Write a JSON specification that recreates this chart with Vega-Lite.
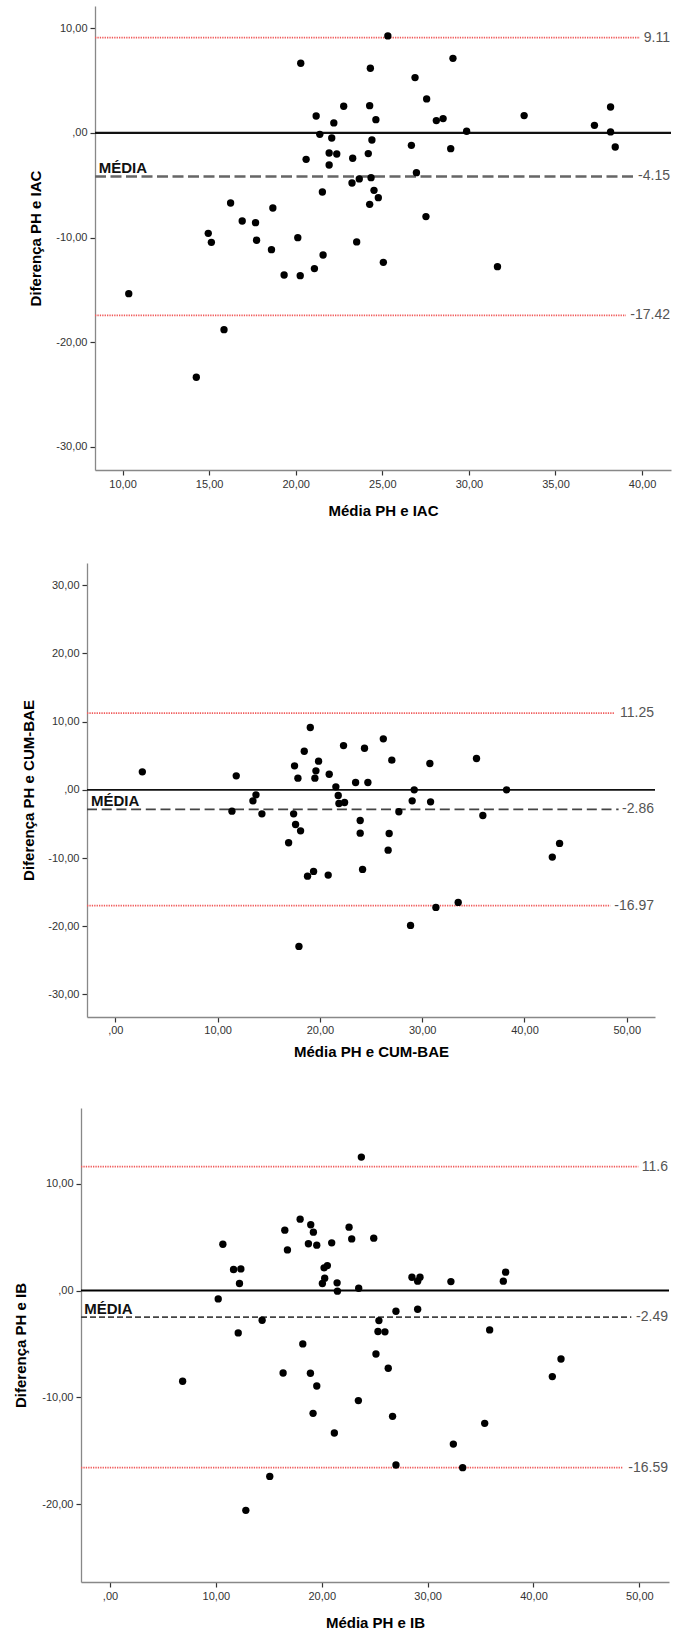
{
  "$schema": "https://vega.github.io/schema/vega-lite/v6.json",
  "padding": {"top": 6, "left": 0, "right": 0, "bottom": 0},
  "spacing": 0,
  "config": {
    "view": {"stroke": null},
    "axis": {
      "grid": false,
      "labelFont": "Liberation Sans",
      "labelFontSize": 11,
      "labelColor": "#333333",
      "titleFont": "Liberation Sans",
      "titleFontSize": 15,
      "titleFontWeight": "bold",
      "titleColor": "#000000",
      "domainColor": "#888888",
      "domainWidth": 1.3,
      "tickColor": "#333333",
      "tickSize": 5,
      "tickWidth": 1.2,
      "labelPadding": 3
    }
  },
  "datasets": {
    "p1": [
      {"m": 10.36, "d": -15.35}, {"m": 14.26, "d": -23.34}, {"m": 15.86, "d": -18.79}, {"m": 14.95, "d": -9.59},
      {"m": 15.13, "d": -10.45}, {"m": 16.24, "d": -6.69}, {"m": 16.91, "d": -8.41}, {"m": 17.68, "d": -8.57},
      {"m": 17.74, "d": -10.25}, {"m": 18.68, "d": -7.17}, {"m": 18.6, "d": -11.15}, {"m": 19.33, "d": -13.57},
      {"m": 20.26, "d": -13.63}, {"m": 20.12, "d": -10.0}, {"m": 20.29, "d": 6.66}, {"m": 20.6, "d": -2.52},
      {"m": 21.08, "d": -12.96}, {"m": 21.58, "d": -11.66}, {"m": 21.54, "d": -5.64}, {"m": 21.18, "d": 1.62},
      {"m": 21.39, "d": -0.13}, {"m": 22.2, "d": 0.96}, {"m": 22.08, "d": -0.48}, {"m": 21.93, "d": -1.91},
      {"m": 22.37, "d": -2.01}, {"m": 21.93, "d": -3.06}, {"m": 22.77, "d": 2.55}, {"m": 23.29, "d": -2.42},
      {"m": 23.25, "d": -4.78}, {"m": 23.67, "d": -4.39}, {"m": 23.52, "d": -10.41}, {"m": 24.31, "d": 6.18},
      {"m": 24.27, "d": 2.61}, {"m": 24.63, "d": 1.27}, {"m": 24.4, "d": -0.67}, {"m": 24.19, "d": -1.97},
      {"m": 24.35, "d": -4.27}, {"m": 24.52, "d": -5.48}, {"m": 24.77, "d": -6.18}, {"m": 24.27, "d": -6.82},
      {"m": 25.06, "d": -12.36}, {"m": 25.32, "d": 9.27}, {"m": 26.89, "d": 5.29}, {"m": 27.56, "d": 3.25},
      {"m": 29.08, "d": 7.13}, {"m": 28.12, "d": 1.18}, {"m": 28.51, "d": 1.37}, {"m": 29.87, "d": 0.16},
      {"m": 26.68, "d": -1.18}, {"m": 28.95, "d": -1.5}, {"m": 26.97, "d": -3.79}, {"m": 27.52, "d": -7.99},
      {"m": 31.65, "d": -12.77}, {"m": 33.19, "d": 1.66}, {"m": 37.25, "d": 0.73}, {"m": 38.18, "d": 2.48},
      {"m": 38.18, "d": 0.1}, {"m": 38.45, "d": -1.34}
    ],
    "l1": [
      {"k": "zero", "d": 0, "m": 8.41, "m2": 41.67},
      {"k": "mean", "d": -4.15, "m": 8.41, "m2": 39.6},
      {"k": "loa", "d": 9.11, "m": 8.41, "m2": 39.88},
      {"k": "loa", "d": -17.42, "m": 8.41, "m2": 39.07}
    ],
    "t1": [
      {"d": 9.11, "m": 41.67, "t": "9.11"},
      {"d": -4.15, "m": 41.67, "t": "-4.15"},
      {"d": -17.42, "m": 41.67, "t": "-17.42"}
    ],
    "md1": [{"d": -3.79, "m": 8.62, "t": "MÉDIA"}],
    "p2": [
      {"m": 2.64, "d": 2.64}, {"m": 11.82, "d": 2.05}, {"m": 11.4, "d": -3.13}, {"m": 13.75, "d": -0.73},
      {"m": 13.45, "d": -1.61}, {"m": 14.33, "d": -3.52}, {"m": 16.94, "d": -7.76}, {"m": 17.43, "d": -3.52},
      {"m": 17.62, "d": -5.08}, {"m": 18.11, "d": -6.01}, {"m": 17.52, "d": 3.52}, {"m": 17.85, "d": 1.71},
      {"m": 18.47, "d": 5.66}, {"m": 19.06, "d": 9.13}, {"m": 18.79, "d": -12.65}, {"m": 19.38, "d": -11.96},
      {"m": 17.95, "d": -22.95}, {"m": 19.61, "d": 2.78}, {"m": 19.51, "d": 1.71}, {"m": 19.87, "d": 4.2},
      {"m": 20.91, "d": 2.29}, {"m": 20.81, "d": -12.5}, {"m": 21.56, "d": 0.44}, {"m": 21.79, "d": -0.83},
      {"m": 21.86, "d": -2.0}, {"m": 22.41, "d": -1.86}, {"m": 22.31, "d": 6.49}, {"m": 23.49, "d": 1.07},
      {"m": 24.69, "d": 1.07}, {"m": 24.36, "d": 6.1}, {"m": 23.94, "d": -4.49}, {"m": 23.94, "d": -6.35},
      {"m": 24.17, "d": -11.67}, {"m": 26.2, "d": 7.47}, {"m": 27.03, "d": 4.35}, {"m": 26.77, "d": -6.4},
      {"m": 26.67, "d": -8.84}, {"m": 27.72, "d": -3.22}, {"m": 29.22, "d": 0.0}, {"m": 29.02, "d": -1.61},
      {"m": 30.75, "d": 3.86}, {"m": 30.82, "d": -1.76}, {"m": 35.31, "d": 4.59}, {"m": 35.93, "d": -3.76},
      {"m": 38.25, "d": 0.0}, {"m": 42.72, "d": -9.86}, {"m": 43.43, "d": -7.86}, {"m": 28.86, "d": -19.87},
      {"m": 31.34, "d": -17.24}, {"m": 33.52, "d": -16.5}
    ],
    "l2": [
      {"k": "zero", "d": 0, "m": -2.77, "m2": 52.76},
      {"k": "mean", "d": -2.86, "m": -2.77, "m2": 49.2},
      {"k": "loa", "d": 11.25, "m": -2.77, "m2": 48.8},
      {"k": "loa", "d": -16.97, "m": -2.77, "m2": 48.4}
    ],
    "t2": [
      {"d": 11.25, "m": 52.76, "t": "11.25"},
      {"d": -2.86, "m": 52.76, "t": "-2.86"},
      {"d": -16.97, "m": 52.76, "t": "-16.97"}
    ],
    "md2": [{"d": -2.39, "m": -2.38, "t": "MÉDIA"}],
    "p3": [
      {"m": 6.86, "d": -8.5}, {"m": 10.22, "d": -0.78}, {"m": 10.66, "d": 4.34}, {"m": 11.67, "d": 1.97},
      {"m": 12.36, "d": 2.03}, {"m": 12.23, "d": 0.66}, {"m": 12.11, "d": -3.97}, {"m": 12.83, "d": -20.59},
      {"m": 14.37, "d": -2.78}, {"m": 15.09, "d": -17.41}, {"m": 16.35, "d": -7.72}, {"m": 16.51, "d": 5.66},
      {"m": 16.76, "d": 3.81}, {"m": 17.96, "d": 6.69}, {"m": 18.21, "d": -5.0}, {"m": 18.96, "d": 6.16},
      {"m": 19.21, "d": 5.47}, {"m": 18.74, "d": 4.38}, {"m": 19.53, "d": 4.25}, {"m": 18.93, "d": -7.75},
      {"m": 19.53, "d": -8.94}, {"m": 19.18, "d": -11.5}, {"m": 20.94, "d": 4.47}, {"m": 20.22, "d": 2.13},
      {"m": 20.53, "d": 2.34}, {"m": 20.28, "d": 1.16}, {"m": 20.06, "d": 0.66}, {"m": 21.45, "d": 0.72},
      {"m": 21.48, "d": -0.06}, {"m": 21.19, "d": -13.34}, {"m": 22.58, "d": 5.94}, {"m": 22.83, "d": 4.84},
      {"m": 23.49, "d": 0.22}, {"m": 23.46, "d": -10.31}, {"m": 23.74, "d": 12.5}, {"m": 24.91, "d": 4.91},
      {"m": 25.4, "d": -2.81}, {"m": 25.31, "d": -3.84}, {"m": 25.97, "d": -3.87}, {"m": 25.12, "d": -5.94},
      {"m": 26.28, "d": -7.28}, {"m": 26.69, "d": -11.78}, {"m": 27.01, "d": -16.34}, {"m": 27.01, "d": -1.94},
      {"m": 29.06, "d": -1.75}, {"m": 28.52, "d": 1.25}, {"m": 29.28, "d": 1.25}, {"m": 29.06, "d": 0.88},
      {"m": 32.2, "d": 0.84}, {"m": 32.43, "d": -14.38}, {"m": 33.31, "d": -16.59}, {"m": 35.39, "d": -12.44},
      {"m": 35.86, "d": -3.69}, {"m": 37.15, "d": 0.88}, {"m": 37.37, "d": 1.72}, {"m": 41.78, "d": -8.06},
      {"m": 42.6, "d": -6.41}
    ],
    "l3": [
      {"k": "zero", "d": 0, "m": -2.74, "m2": 52.8},
      {"k": "mean", "d": -2.49, "m": -2.74, "m2": 49.24},
      {"k": "loa", "d": 11.6, "m": -2.74, "m2": 49.9},
      {"k": "loa", "d": -16.59, "m": -2.74, "m2": 48.45}
    ],
    "t3": [
      {"d": 11.6, "m": 52.8, "t": "11.6"},
      {"d": -2.49, "m": 52.8, "t": "-2.49"},
      {"d": -16.59, "m": 52.8, "t": "-16.59"}
    ],
    "md3": [{"d": -2.19, "m": -2.43, "t": "MÉDIA"}]
  },
  "vconcat": [
    {
      "spacing": 0,
      "hconcat": [
        {"width": 27.5, "height": 556.3, "data": {"values": [{"a": 0}]}, "mark": {"type": "point", "opacity": 0}},
        {
          "width": 576, "height": 464,
          "encoding": {
            "x": {"field": "m", "type": "quantitative",
              "scale": {"domain": [8.41, 41.67], "nice": false, "zero": false},
              "axis": {"title": "Média PH e IAC", "values": [10, 15, 20, 25, 30, 35, 40], "titlePadding": 14,
                "labelExpr": "datum.value == 0 ? ',00' : replace(replace(format(datum.value, '.2f'), '.', ','), '\u2212', '-')"}},
            "y": {"field": "d", "type": "quantitative",
              "scale": {"domain": [-32.2, 12.13], "nice": false, "zero": false},
              "axis": {"title": "Diferença PH e IAC", "values": [-30, -20, -10, 0, 10], "titleX": -59.7, "titleBaseline": "middle",
                "labelExpr": "datum.value == 0 ? ',00' : replace(replace(format(datum.value, '.2f'), '.', ','), '\u2212', '-')"}}
          },
          "layer": [
            {"data": {"name": "l1"}, "transform": [{"filter": "datum.k == 'loa'"}],
             "mark": {"type": "rule", "color": "#f05a5a", "strokeWidth": 1.8, "strokeDash": [1.3, 1.1]},
             "encoding": {"x2": {"field": "m2"}}},
            {"data": {"name": "l1"}, "transform": [{"filter": "datum.k == 'mean'"}],
             "mark": {"type": "rule", "color": "#666666", "strokeWidth": 2.5, "strokeDash": [11, 4.5]},
             "encoding": {"x2": {"field": "m2"}}},
            {"data": {"name": "l1"}, "transform": [{"filter": "datum.k == 'zero'"}],
             "mark": {"type": "rule", "color": "#111111", "strokeWidth": 2.2},
             "encoding": {"x2": {"field": "m2"}}},
            {"data": {"name": "p1"}, "mark": {"type": "point", "filled": true, "color": "#000000", "opacity": 1, "size": 54}},
            {"data": {"name": "t1"}, "mark": {"type": "text", "align": "right", "baseline": "middle", "dx": -1, "font": "Liberation Sans", "fontSize": 14, "color": "#555555"},
             "encoding": {"text": {"field": "t"}}},
            {"data": {"name": "md1"}, "mark": {"type": "text", "align": "left", "baseline": "alphabetic", "font": "Liberation Sans", "fontSize": 15, "fontWeight": "bold", "color": "#111111"},
             "encoding": {"text": {"field": "t"}}}
          ]
        }
      ]
    },
    {
      "spacing": 0,
      "hconcat": [
        {"width": 21, "height": 545, "data": {"values": [{"a": 0}]}, "mark": {"type": "point", "opacity": 0}},
        {
          "width": 568, "height": 454,
          "encoding": {
            "x": {"field": "m", "type": "quantitative",
              "scale": {"domain": [-2.77, 52.76], "nice": false, "zero": false},
              "axis": {"title": "Média PH e CUM-BAE", "values": [0, 10, 20, 30, 40, 50], "titlePadding": 9, "labelPadding": 2,
                "labelExpr": "datum.value == 0 ? ',00' : replace(replace(format(datum.value, '.2f'), '.', ','), '\u2212', '-')"}},
            "y": {"field": "d", "type": "quantitative",
              "scale": {"domain": [-33.3, 33.25], "nice": false, "zero": false},
              "axis": {"title": "Diferença PH e CUM-BAE", "values": [-30, -20, -10, 0, 10, 20, 30], "titleX": -58.8, "titleBaseline": "middle",
                "labelExpr": "datum.value == 0 ? ',00' : replace(replace(format(datum.value, '.2f'), '.', ','), '\u2212', '-')"}}
          },
          "layer": [
            {"data": {"name": "l2"}, "transform": [{"filter": "datum.k == 'loa'"}],
             "mark": {"type": "rule", "color": "#f05a5a", "strokeWidth": 1.8, "strokeDash": [1.3, 1.1]},
             "encoding": {"x2": {"field": "m2"}}},
            {"data": {"name": "l2"}, "transform": [{"filter": "datum.k == 'mean'"}],
             "mark": {"type": "rule", "color": "#444444", "strokeWidth": 1.8, "strokeDash": [10, 4.7]},
             "encoding": {"x2": {"field": "m2"}}},
            {"data": {"name": "l2"}, "transform": [{"filter": "datum.k == 'zero'"}],
             "mark": {"type": "rule", "color": "#111111", "strokeWidth": 1.8},
             "encoding": {"x2": {"field": "m2"}}},
            {"data": {"name": "p2"}, "mark": {"type": "point", "filled": true, "color": "#000000", "opacity": 1, "size": 54}},
            {"data": {"name": "t2"}, "mark": {"type": "text", "align": "right", "baseline": "middle", "dx": -1, "font": "Liberation Sans", "fontSize": 14, "color": "#555555"},
             "encoding": {"text": {"field": "t"}}},
            {"data": {"name": "md2"}, "mark": {"type": "text", "align": "left", "baseline": "alphabetic", "font": "Liberation Sans", "fontSize": 15, "fontWeight": "bold", "color": "#111111"},
             "encoding": {"text": {"field": "t"}}}
          ]
        }
      ]
    },
    {
      "spacing": 0,
      "hconcat": [
        {"width": 12.5, "height": 474, "data": {"values": [{"a": 0}]}, "mark": {"type": "point", "opacity": 0}},
        {
          "width": 588, "height": 474,
          "encoding": {
            "x": {"field": "m", "type": "quantitative",
              "scale": {"domain": [-2.74, 52.8], "nice": false, "zero": false},
              "axis": {"title": "Média PH e IB", "values": [0, 10, 20, 30, 40, 50], "titlePadding": 14,
                "labelExpr": "datum.value == 0 ? ',00' : replace(replace(format(datum.value, '.2f'), '.', ','), '\u2212', '-')"}},
            "y": {"field": "d", "type": "quantitative",
              "scale": {"domain": [-27.3, 17.1], "nice": false, "zero": false},
              "axis": {"title": "Diferença PH e IB", "values": [-20, -10, 0, 10], "titleX": -60.7, "titleBaseline": "middle",
                "labelExpr": "datum.value == 0 ? ',00' : replace(replace(format(datum.value, '.2f'), '.', ','), '\u2212', '-')"}}
          },
          "layer": [
            {"data": {"name": "l3"}, "transform": [{"filter": "datum.k == 'loa'"}],
             "mark": {"type": "rule", "color": "#f05a5a", "strokeWidth": 1.8, "strokeDash": [1.3, 1.1]},
             "encoding": {"x2": {"field": "m2"}}},
            {"data": {"name": "l3"}, "transform": [{"filter": "datum.k == 'mean'"}],
             "mark": {"type": "rule", "color": "#444444", "strokeWidth": 1.8, "strokeDash": [6, 3]},
             "encoding": {"x2": {"field": "m2"}}},
            {"data": {"name": "l3"}, "transform": [{"filter": "datum.k == 'zero'"}],
             "mark": {"type": "rule", "color": "#000000", "strokeWidth": 2},
             "encoding": {"x2": {"field": "m2"}}},
            {"data": {"name": "p3"}, "mark": {"type": "point", "filled": true, "color": "#000000", "opacity": 1, "size": 54}},
            {"data": {"name": "t3"}, "mark": {"type": "text", "align": "right", "baseline": "middle", "dx": -1, "font": "Liberation Sans", "fontSize": 14, "color": "#555555"},
             "encoding": {"text": {"field": "t"}}},
            {"data": {"name": "md3"}, "mark": {"type": "text", "align": "left", "baseline": "alphabetic", "font": "Liberation Sans", "fontSize": 15, "fontWeight": "bold", "color": "#111111"},
             "encoding": {"text": {"field": "t"}}}
          ]
        }
      ]
    }
  ]
}
